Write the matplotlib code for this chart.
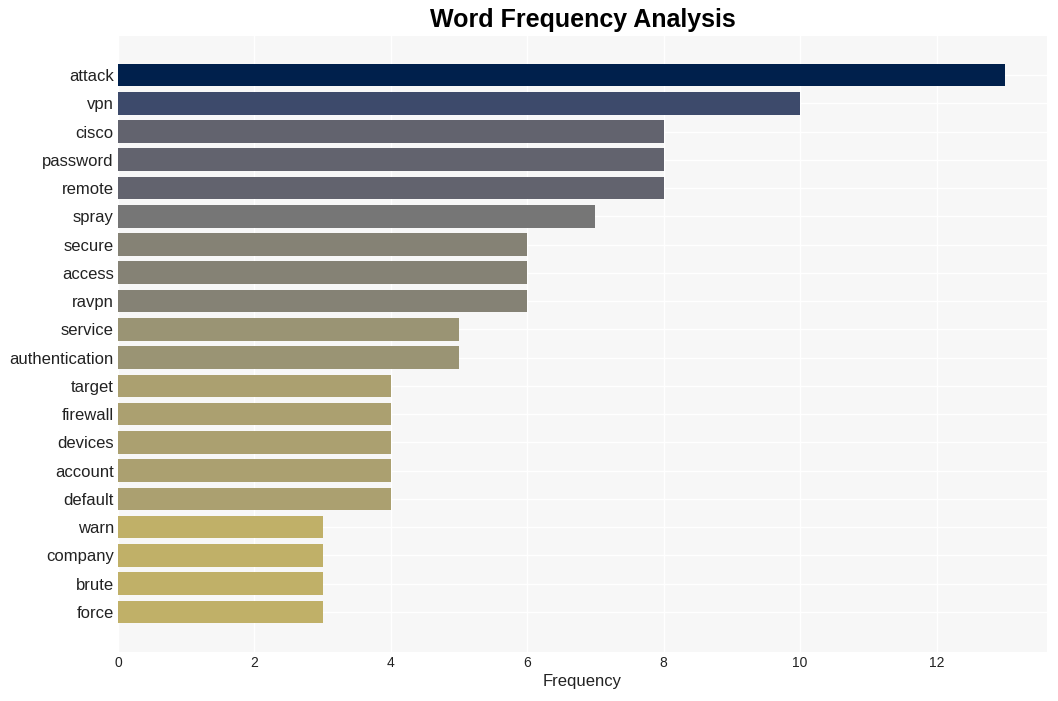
import matplotlib
matplotlib.use("Agg")
import matplotlib.pyplot as plt

words = ["attack", "vpn", "cisco", "password", "remote", "spray", "secure", "access",
         "ravpn", "service", "authentication", "target", "firewall", "devices",
         "account", "default", "warn", "company", "brute", "force"]
counts = [13, 10, 8, 8, 8, 7, 6, 6, 6, 5, 5, 4, 4, 4, 4, 4, 3, 3, 3, 3]
colors = ["#00204C", "#3D4A6B", "#62636E", "#62636E", "#62636E", "#767676",
          "#858275", "#858275", "#858275", "#9A9474", "#9A9474", "#ABA070",
          "#ABA070", "#ABA070", "#ABA070", "#ABA070", "#C0B068", "#C0B068",
          "#C0B068", "#C0B068"]

plt.rcParams['font.family'] = ['Liberation Sans', 'DejaVu Sans']

fig = plt.figure(figsize=(10.58, 7.01), dpi=100)
ax = fig.add_axes([118/1058, 1-652/701, (1047-118)/1058, (652-36)/701])
ax.set_facecolor("#F7F7F7")
y = list(range(len(words)))
ax.barh(y, counts, height=0.8, color=colors, zorder=2)
ax.set_yticks(y)
ax.set_yticklabels(words, fontsize=12, color="#222222")
ax.set_ylim(20.42, -1.38)
ax.set_xlim(0, 13.62)
ax.set_xticks([0, 2, 4, 6, 8, 10, 12])
ax.tick_params(axis='x', labelsize=10, colors="#222222", length=0, pad=3)
ax.tick_params(axis='y', length=0, pad=3)
ax.grid(True, color="white", linewidth=1, zorder=0)
ax.set_axisbelow(True)
for s in ax.spines.values():
    s.set_visible(False)
ax.set_xlabel("Frequency", fontsize=12, color="#222222", labelpad=3)
fig.text(583/1058, 1-20/701, "Word Frequency Analysis", ha="center", va="center",
         fontsize=18, fontweight="bold", color="black")
fig.savefig("out.png", dpi=100, facecolor="white")
